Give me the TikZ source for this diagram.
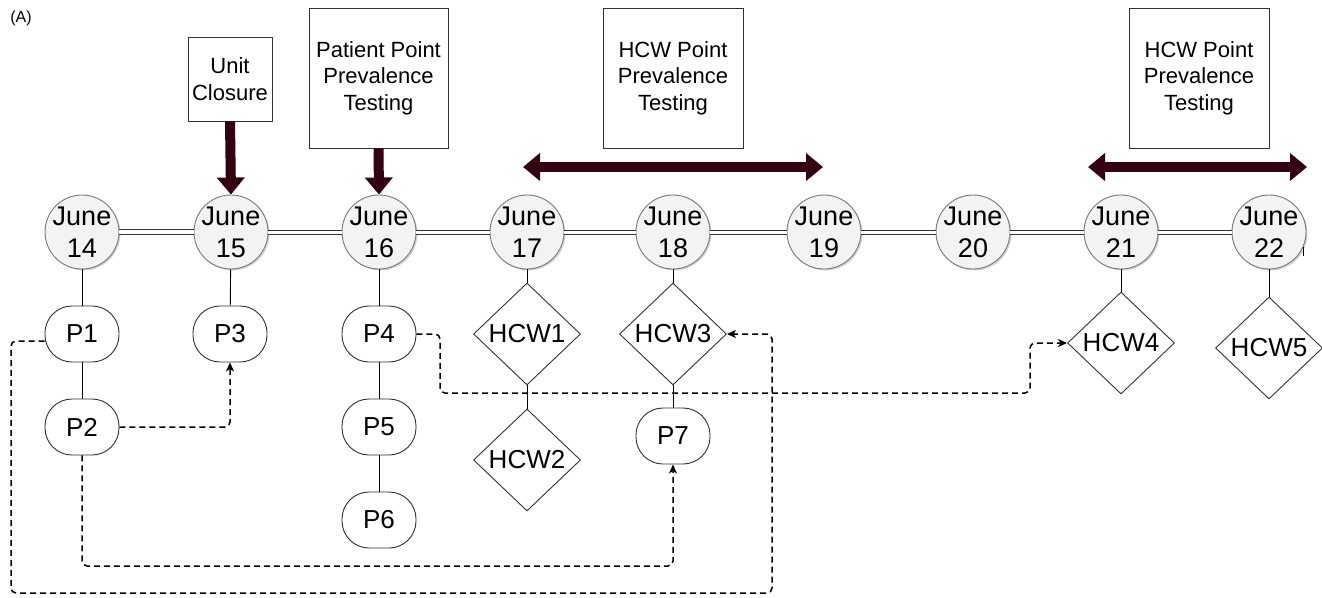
\documentclass[tikz,border=0pt]{standalone}
\usepackage{fontspec}
\setmainfont{Liberation Sans}
\usetikzlibrary{shapes.geometric,arrows.meta,shadows}
\definecolor{maroon}{RGB}{51,0,20}
\definecolor{cfill}{RGB}{243,243,243}
\definecolor{cborder}{RGB}{120,120,120}
\definecolor{sborder}{RGB}{50,50,50}
\tikzset{
  datecirc/.style={circle,draw=cborder,line width=0.9pt,fill=cfill,minimum size=74pt,inner sep=0pt,
    drop shadow={shadow xshift=1.5pt,shadow yshift=-1.5pt,opacity=0.35}},
  datetext/.style={align=center,inner sep=0pt,font=\fontsize{27}{32}\selectfont},
  evbox/.style={draw=sborder,line width=0.9pt,fill=white,align=center,inner sep=0pt,font=\fontsize{22}{26.5}\selectfont},
  pnode/.style={draw=sborder,line width=0.9pt,fill=white,rounded corners=27pt,minimum width=74pt,minimum height=56pt,inner sep=0pt,font=\fontsize{26}{30}\selectfont},
  hnode/.style={diamond,draw=sborder,line width=0.9pt,fill=white,minimum width=107pt,minimum height=102pt,inner sep=0pt,font=\fontsize{26}{30}\selectfont},
  tline/.style={double=white,double distance=3pt,line width=1pt,draw=sborder},
  solidc/.style={line width=0.9pt,draw=black},
  dashc/.style={dash pattern=on 6pt off 4pt,line width=1.5pt,rounded corners=5pt,-{Stealth[length=9pt,width=8pt,inset=2.5pt]}},
  bigarrow/.style={draw=maroon,line width=10pt,-{Triangle[length=17pt,width=27pt]}},
  bigdarrow/.style={draw=maroon,line width=10pt,{Triangle[length=17pt,width=27pt]}-{Triangle[length=17pt,width=27pt]}},
}
\begin{document}
\begin{tikzpicture}[x=1pt,y=-1pt]
\useasboundingbox (0,0) rectangle (1322,597);
\node[font=\fontsize{16}{18}\selectfont] (lblA) at (21,18) {(A)};

% event boxes
\node[evbox,minimum width=84pt,minimum height=84pt] (bUC) at (230,79) {Unit\\Closure};
\node[evbox,minimum width=139pt,minimum height=140pt] (bPP) at (378.5,78) {Patient Point\\Prevalence\\Testing};
\node[evbox,minimum width=140pt,minimum height=140pt] (bH1) at (673,78) {HCW Point\\Prevalence\\Testing};
\node[evbox,minimum width=140pt,minimum height=140pt] (bH2) at (1199,78) {HCW Point\\Prevalence\\Testing};

% date circles
\foreach \n/\x in {14/82,15/231,16/379,17/527,18/673,19/824,20/973,21/1121,22/1269}{
  \node[datecirc] (d\n) at (\x,232) {};
}
% timeline
\draw[tline,double distance=4pt] (d14) -- (d15);
\foreach \a/\b in {15/16,16/17,17/18,18/19,19/20,20/21,21/22}{
  \draw[tline] (d\a) -- (d\b);
}
\foreach \n in {14,...,22}{
  \node[datetext] (t\n) at (d\n) {June\\\n};
}
\draw[line width=0.9pt] (1303,247) -- (1303,256);

% big arrows
\draw[bigarrow] (bUC.south) -- (d15.north);
\draw[bigarrow] (bPP.south) -- (d16.north);
\coordinate (r1a) at (523,167);
\coordinate (r1b) at (823,167);
\coordinate (r2a) at (1088,167);
\coordinate (r2b) at (1307,167);
\draw[bigdarrow] (r1a) -- (r1b);
\draw[bigdarrow] (r2a) -- (r2b);

% children
\node[pnode] (P1) at (82,334) {P1};
\node[pnode] (P2) at (82,427) {P2};
\node[pnode] (P3) at (230,334) {P3};
\node[pnode] (P4) at (379,334) {P4};
\node[pnode] (P5) at (379,427) {P5};
\node[pnode] (P6) at (379,520) {P6};
\node[hnode] (H1) at (527,334) {HCW1};
\node[hnode] (H2) at (527,460) {HCW2};
\node[hnode] (H3) at (673,334) {HCW3};
\node[pnode] (P7) at (673,436) {P7};
\node[hnode] (H4) at (1121,343) {HCW4};
\node[hnode] (H5) at (1269,348) {HCW5};

\draw[solidc] (d14) -- (P1); \draw[solidc] (P1) -- (P2);
\draw[solidc] (d15) -- (P3);
\draw[solidc] (d16) -- (P4); \draw[solidc] (P4) -- (P5); \draw[solidc] (P5) -- (P6);
\draw[solidc] (d17) -- (H1); \draw[solidc] (H1) -- (H2);
\draw[solidc] (d18) -- (H3); \draw[solidc] (H3) -- (P7);
\draw[solidc] (d21) -- (H4);
\draw[solidc] (d22) -- (H5);

% dashed connectors
\coordinate (k1) at (11,593);
\coordinate (k2) at (772,593);
\coordinate (k3) at (673,566);
\coordinate (k5) at (440,393);
\coordinate (k6) at (1030,393);
\draw[dashc] ([yshift=-7pt]P1.west) -| (k1) -- (k2) |- (H3.east);
\draw[dashc] (P2.east) -| (P3.south);
\draw[dashc] (P2.south) |- (k3) -- (P7.south);
\draw[dashc] (P4.east) -| (k5) -- (k6) |- (H4.west);
\end{tikzpicture}
\end{document}
